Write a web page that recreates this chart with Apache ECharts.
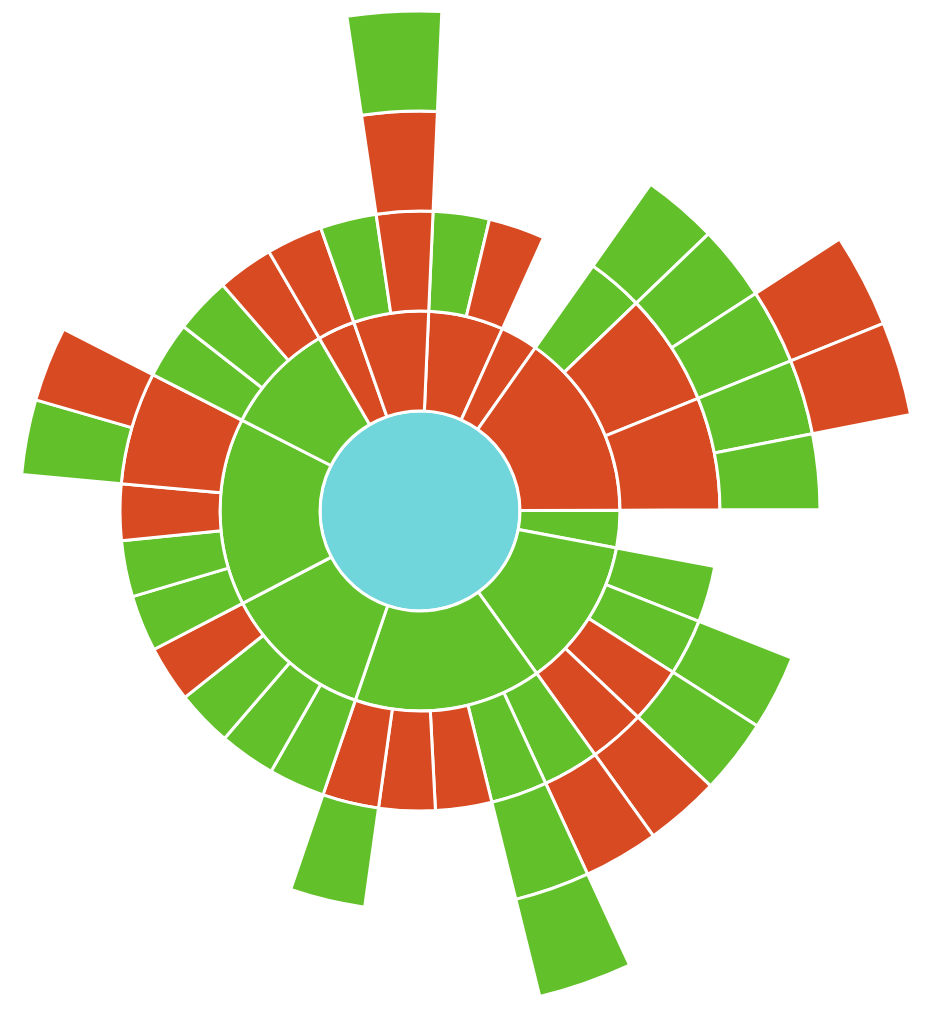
<!DOCTYPE html>
<html>
<head>
<meta charset="utf-8">
<script src="https://cdn.jsdelivr.net/npm/echarts@6/dist/echarts.min.js"></script>
<style>
  html, body { margin: 0; padding: 0; background: #ffffff; }
  #chart { width: 932px; height: 1026px; }
</style>
</head>
<body>
<div id="chart"></div>
<script>
// Node list (pre-order). Leaves get value 1; parents sum their children.
const nodeIds = [
  'root',
  'A', 'A1', 'A2',
  'B',
  'C', 'C1', 'C1a', 'C2', 'C2a', 'C2b', 'C2b1', 'C3', 'C3a', 'C3a1', 'C3b',
  'D',
  'E', 'E1', 'E2', 'E2a', 'E3', 'E3a', 'E4', 'E4a',
  'F', 'F1', 'F1a', 'F2', 'F2a', 'F2a1', 'F3', 'F4', 'F5', 'F5a',
  'G', 'G1', 'G2', 'G3', 'G4',
  'H', 'H1', 'H2', 'H3', 'H4', 'H4a', 'H4b',
  'I', 'I1', 'I2', 'I3',
  'J', 'J1',
  'K', 'K1', 'K2', 'K2a', 'K2a1'
];
const parentIds = [
  null,
  'root', 'A', 'A',
  'root',
  'root', 'C', 'C1', 'C', 'C2', 'C2', 'C2b', 'C', 'C3', 'C3a', 'C3',
  'root',
  'root', 'E', 'E', 'E2', 'E', 'E3', 'E', 'E4',
  'root', 'F', 'F1', 'F', 'F2', 'F2a', 'F', 'F', 'F', 'F5',
  'root', 'G', 'G', 'G', 'G',
  'root', 'H', 'H', 'H', 'H', 'H4', 'H4',
  'root', 'I', 'I', 'I',
  'root', 'J',
  'root', 'K', 'K', 'K2', 'K2a'
];
// c = center (cyan), r = red, g = green
const nodeColors = [
  'c',
  'r', 'g', 'r',
  'r',
  'r', 'g', 'g', 'r', 'g', 'g', 'r', 'r', 'g', 'r', 'g',
  'g',
  'g', 'g', 'g', 'g', 'r', 'g', 'r', 'r',
  'g', 'g', 'r', 'g', 'g', 'g', 'r', 'r', 'r', 'g',
  'g', 'g', 'g', 'g', 'r',
  'g', 'g', 'g', 'r', 'r', 'g', 'r',
  'g', 'g', 'g', 'r',
  'r', 'r',
  'r', 'g', 'r', 'r', 'g'
];
const leafValue = 1;

const palette = { c: '#70d6dc', r: '#d84a22', g: '#62c12a' };

function buildTree() {
  const map = {};
  nodeIds.forEach(function (id, i) {
    map[id] = { name: id, itemStyle: { color: palette[nodeColors[i]] }, children: [] };
  });
  let top = [];
  nodeIds.forEach(function (id, i) {
    const p = parentIds[i];
    if (p === null) top.push(map[id]); else map[p].children.push(map[id]);
  });
  nodeIds.forEach(function (id) {
    const n = map[id];
    if (n.children.length === 0) { delete n.children; n.value = leafValue; }
  });
  return top;
}

const chart = echarts.init(document.getElementById('chart'), null, { renderer: 'canvas' });
chart.setOption({
  animation: false,
  series: [{
    type: 'sunburst',
    center: [420, 511],
    radius: [0, 500],
    startAngle: 87.5,
    sort: null,
    nodeClick: false,
    data: buildTree(),
    label: { show: false },
    itemStyle: { borderColor: '#ffffff', borderWidth: 3 },
    emphasis: { disabled: true }
  }]
});
</script>
</body>
</html>
